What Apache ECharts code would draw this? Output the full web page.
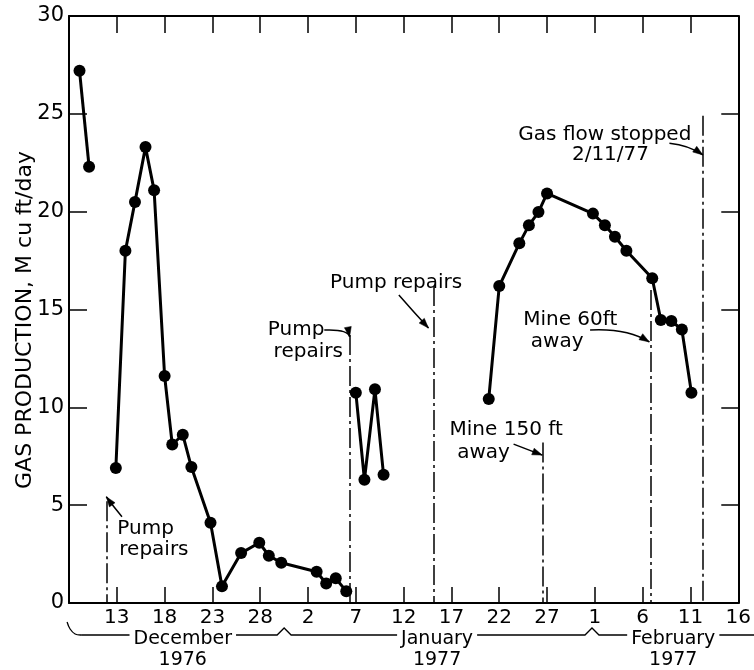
<!DOCTYPE html>
<html><head><meta charset="utf-8">
<script src="https://cdn.jsdelivr.net/npm/echarts@6/dist/echarts.min.js"></script>
<style>html,body{margin:0;padding:0;background:#fff}#c{width:754px;height:670px}</style>
</head><body><div id="c"></div>
<script>
// x = days after 8 December 1976 (tick every 5 days)
const xTickLabels = ['', '13', '18', '23', '28', '2', '7', '12', '17', '22', '27', '1', '6', '11', '16'];
const seg1 = [[1.1, 27.2], [2.1, 22.3]];
const seg2 = [[4.9, 6.9], [5.9, 18.0], [6.9, 20.5], [8.0, 23.3], [8.9, 21.1], [10.0, 11.6], [10.8, 8.1], [11.9, 8.6], [12.8, 6.95], [14.8, 4.1], [16.0, 0.85], [18.0, 2.55], [19.9, 3.08], [20.9, 2.42], [22.2, 2.06], [25.9, 1.6], [26.9, 1.0], [27.9, 1.26], [29.0, 0.6]];
const seg3 = [[30.0, 10.75], [30.9, 6.3], [32.0, 10.92], [32.9, 6.55]];
const seg4 = [[43.9, 10.42], [45.0, 16.2], [47.1, 18.38], [48.1, 19.3], [49.1, 19.98], [50.0, 20.93], [54.8, 19.9], [56.05, 19.3], [57.1, 18.72], [58.3, 18.0], [61.0, 16.6], [61.9, 14.46], [63.0, 14.41], [64.1, 13.98], [65.1, 10.75]];
// event lines: [day, top value]
const eventLines = [[3.9, 5.2], [29.4, 13.7], [38.1, 16.2], [49.6, 8.2], [60.8, 16.0], [66.3, 24.9]];
// arrows: [fromDay, fromVal, ctrlDay, ctrlVal, toDay, toVal]
const arrows = [
  [5.54, 4.41, 4.7, 4.9, 3.9, 5.43],
  [26.7, 13.95, 29.2, 14.0, 29.35, 13.6],
  [34.5, 15.74, 36.0, 14.9, 37.6, 14.05],
  [46.5, 8.12, 48.0, 7.84, 49.5, 7.56],
  [54.5, 13.95, 58.35, 14.05, 60.7, 13.34],
  [62.8, 23.5, 64.85, 23.4, 66.3, 22.9]
];
const noteTexts = ['Pump', 'repairs', 'Pump', 'repairs', 'Pump repairs', 'Mine 150 ft', 'away', 'Mine 60ft', 'away', 'Gas flow stopped', '2/11/77'];
const noteDays = [5.05, 5.26, 20.8, 21.4, 27.3, 39.8, 40.6, 47.5, 48.3, 47.0, 52.6];
const noteVals = [3.78, 2.71, 13.95, 12.83, 16.35, 8.84, 7.67, 14.46, 13.34, 23.92, 22.9];
const monthNames = ['December', 'January', 'February'];
const monthYears = ['1976', '1977', '1977'];
const monthCenters = [11.9, 38.5, 63.2];
const bracePeaks = [22.5, 54.7];

const FONT = 'DejaVu Sans';
const INK = '#000';

function segSeries(data) {
  return {
    type: 'line', data: data, symbol: 'circle', symbolSize: 12,
    itemStyle: { color: INK }, lineStyle: { color: INK, width: 3 },
    z: 5, silent: true
  };
}

const series = [segSeries(seg1), segSeries(seg2), segSeries(seg3), segSeries(seg4)];
series[3].markLine = {
  silent: true, animation: false,
  label: { show: false },
  data: eventLines.map(e => [
    { coord: [e[0], e[1]], symbol: 'none', lineStyle: { color: INK, width: 1.5, type: [20, 4, 3, 4] } },
    { coord: [e[0], 0], symbol: 'none' }
  ])
};

const option = {
  animation: false,
  backgroundColor: '#fff',
  grid: { left: 69, right: 6, top: 16, bottom: 67, containLabel: false },
  xAxis: [{
    type: 'value', min: 0, max: 70, interval: 5, position: 'bottom',
    axisLine: { onZero: false, lineStyle: { color: INK, width: 2 } },
    axisTick: { inside: true, length: 16, lineStyle: { color: INK, width: 1.5 } },
    splitLine: { show: false },
    axisLabel: { color: INK, fontSize: 20, fontFamily: FONT, margin: 5,
      formatter: v => xTickLabels[Math.round(v / 5)] || '' }
  }, {
    type: 'value', min: 0, max: 70, interval: 5, position: 'top',
    axisLine: { onZero: false, lineStyle: { color: INK, width: 2 } },
    axisTick: { inside: true, length: 17, lineStyle: { color: INK, width: 1.5 } },
    splitLine: { show: false }, axisLabel: { show: false }
  }],
  yAxis: [{
    type: 'value', min: 0, max: 30, interval: 5, position: 'left',
    axisLine: { show: true, onZero: false, lineStyle: { color: INK, width: 2 } },
    axisTick: { show: true, inside: true, length: 18, lineStyle: { color: INK, width: 1.5 } },
    splitLine: { show: false },
    axisLabel: { color: INK, fontSize: 21, fontFamily: FONT, margin: 5 }
  }, {
    type: 'value', min: 0, max: 30, interval: 5, position: 'right',
    axisLine: { show: true, onZero: false, lineStyle: { color: INK, width: 2 } },
    axisTick: { show: true, inside: true, length: 17, lineStyle: { color: INK, width: 1.5 } },
    splitLine: { show: false }, axisLabel: { show: false }
  }],
  series: series
};

const chart = echarts.init(document.getElementById('c'));
chart.setOption(option);

const px = (d, v) => chart.convertToPixel({ seriesIndex: 0 }, [d, v]);
const g = [];
// arrows
arrows.forEach(a => {
  const p1 = px(a[0], a[1]), c = px(a[2], a[3]), p2 = px(a[4], a[5]);
  g.push({ type: 'bezierCurve', z: 9, shape: { x1: p1[0], y1: p1[1], cpx1: c[0], cpy1: c[1], x2: p2[0], y2: p2[1] },
    style: { stroke: INK, lineWidth: 1.5, fill: null } });
  let dx = p2[0] - c[0], dy = p2[1] - c[1];
  const L = Math.hypot(dx, dy) || 1; dx /= L; dy /= L;
  const len = 10, hw = 3.5;
  const bx = p2[0] - dx * len, by = p2[1] - dy * len;
  g.push({ type: 'polygon', z: 9, shape: { points: [[p2[0], p2[1]], [bx - dy * hw, by + dx * hw], [bx + dy * hw, by - dx * hw]] },
    style: { fill: INK, stroke: INK, lineWidth: 0.5 } });
});
noteTexts.forEach((t, i) => {
  const p = px(noteDays[i], noteVals[i]);
  g.push({ type: 'text', x: p[0], y: p[1], z: 10,
    style: { text: t, fill: INK, fontSize: 20, fontFamily: FONT, textAlign: 'left', textVerticalAlign: 'middle', align: 'left', verticalAlign: 'middle' } });
});
// y-axis title
const plotBot = px(0, 0)[1];
g.push({ type: 'text', x: 25, y: 320, rotation: Math.PI / 2, z: 10,
  style: { text: 'GAS PRODUCTION, M cu ft/day', fill: INK, fontSize: 22, fontFamily: FONT, textAlign: 'center', textVerticalAlign: 'middle', align: 'center', verticalAlign: 'middle' } });
// month braces
const lineY = plotBot + 32;
const x0 = px(-0.2, 0)[0];
const xEnd = 760;
g.push({ type: 'polyline', z: 8, shape: { points: [[x0, plotBot + 19], [x0 + 3, plotBot + 26], [x0 + 8, plotBot + 31], [x0 + 14, lineY]], smooth: 0.4 },
  style: { stroke: INK, lineWidth: 1.3, fill: null } });
const pts = [[x0 + 14, lineY]];
bracePeaks.forEach(d => {
  const x = px(d, 0)[0];
  pts.push([x - 7, lineY], [x, lineY - 7], [x + 7, lineY]);
});
pts.push([xEnd, lineY]);
g.push({ type: 'polyline', z: 8, shape: { points: pts }, style: { stroke: INK, lineWidth: 1.3, fill: null } });
monthNames.forEach((m, i) => {
  const x = px(monthCenters[i], 0)[0];
  g.push({ type: 'text', x: x, y: lineY + 4, z: 9,
    style: { text: m, fill: INK, fontSize: 19, fontFamily: FONT, textAlign: 'center', textVerticalAlign: 'middle', align: 'center', verticalAlign: 'middle', backgroundColor: '#fff', padding: [0, 4] } });
  g.push({ type: 'text', x: x, y: lineY + 25, z: 9,
    style: { text: monthYears[i], fill: INK, fontSize: 19, fontFamily: FONT, textAlign: 'center', textVerticalAlign: 'middle', align: 'center', verticalAlign: 'middle' } });
});
chart.setOption({ graphic: g });
</script></body></html>
